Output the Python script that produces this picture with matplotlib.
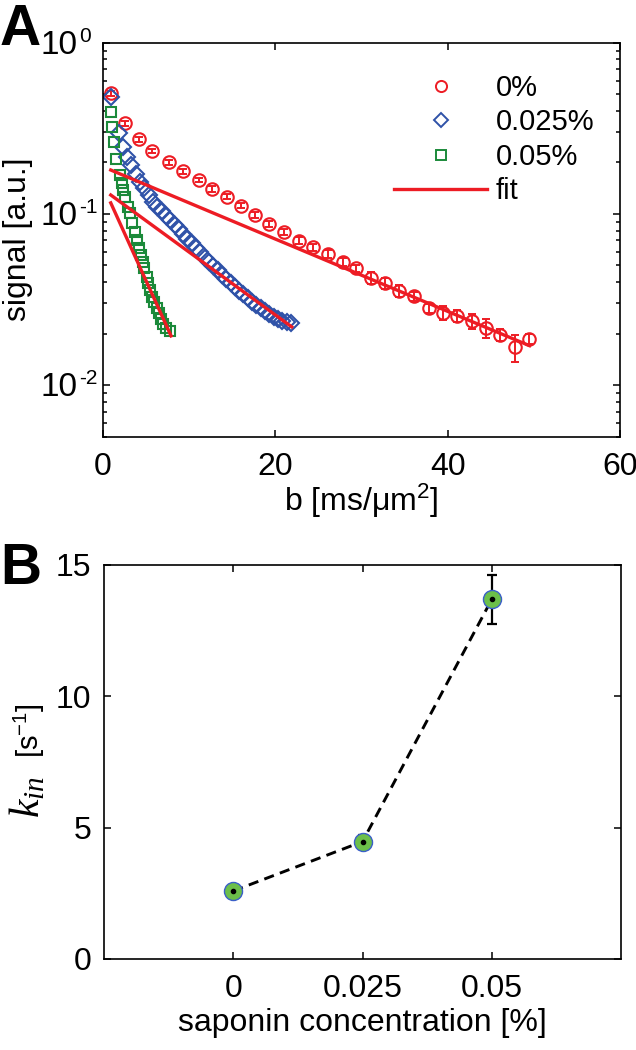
import matplotlib
matplotlib.use("Agg")
import matplotlib.pyplot as plt
import matplotlib.transforms as mtransforms
from matplotlib.lines import Line2D
from matplotlib.ticker import NullFormatter

plt.rcParams['font.family'] = ['Liberation Sans', 'DejaVu Sans']
plt.rcParams['mathtext.fontset'] = 'custom'
plt.rcParams['mathtext.rm'] = 'Liberation Sans'
plt.rcParams['mathtext.it'] = 'Liberation Serif:italic'
plt.rcParams['axes.unicode_minus'] = False

# panel A: signal decay, 0% saponin
b_0 = [0.9, 2.5, 4.2, 5.7, 7.7, 9.3, 11.1, 12.7, 14.4, 16.0, 17.6, 19.3, 21.0, 22.7, 24.4,
       26.1, 27.8, 29.4, 31.1, 32.7, 34.4, 36.1, 37.8, 39.5, 41.1, 42.8, 44.4, 46.1, 47.8, 49.4]
sig_0 = [0.506, 0.338, 0.273, 0.233, 0.200, 0.178, 0.158, 0.140, 0.126, 0.112, 0.0986, 0.0873,
         0.0787, 0.0699, 0.0638, 0.0583, 0.0526, 0.0481, 0.0424, 0.0393, 0.0357, 0.0332,
         0.0282, 0.0265, 0.0253, 0.0237, 0.0216, 0.0197, 0.0167, 0.0187]
err_0 = [0.015, 0.012, 0.009, 0.006, 0.007, 0.006, 0.005, 0.005, 0.004, 0.004, 0.0035, 0.0035,
         0.0035, 0.0035, 0.003, 0.003, 0.0027, 0.0025, 0.0034, 0.0027, 0.003, 0.002,
         0.0017, 0.0026, 0.002, 0.0023, 0.0028, 0.0016, 0.003, 0.0013]

# 0.025% saponin
b_025 = [0.9, 1.8, 2.3, 2.8, 3.3, 3.8, 4.3, 4.8, 5.3, 5.8, 6.3, 6.8, 7.3, 7.8, 8.3, 8.8, 9.3,
         9.8, 10.3, 10.8, 11.3, 11.8, 12.3, 12.8, 13.3, 13.8, 14.3, 14.8, 15.3, 15.8, 16.3,
         16.8, 17.3, 17.8, 18.3, 18.8, 19.3, 19.8, 20.3, 20.8, 21.3, 21.8]
sig_025 = [0.484, 0.296, 0.247, 0.216, 0.193, 0.172, 0.154, 0.141, 0.129, 0.118, 0.110, 0.1035,
           0.0977, 0.0923, 0.0867, 0.0813, 0.0759, 0.0716, 0.0676, 0.0631, 0.0596, 0.0556,
           0.0525, 0.0495, 0.0468, 0.0442, 0.0419, 0.0396, 0.0376, 0.0357, 0.0339, 0.0324,
           0.0308, 0.0295, 0.0282, 0.0270, 0.0260, 0.0251, 0.0244, 0.0237, 0.0234, 0.0232]

# 0.05% saponin
b_05 = [0.93, 1.01, 1.28, 1.51, 1.97, 2.17, 2.36, 2.55, 2.94, 3.13, 3.40, 3.71, 3.91, 4.18,
        4.37, 4.61, 4.79, 5.07, 5.26, 5.45, 5.72, 5.95, 6.23, 6.50, 6.73, 7.00, 7.27, 7.77]
sig_05 = [0.395, 0.323, 0.264, 0.209, 0.169, 0.151, 0.138, 0.126, 0.110, 0.1008, 0.0881,
          0.0787, 0.0704, 0.0630, 0.0575, 0.0526, 0.0481, 0.0430, 0.0393, 0.0360, 0.0328,
          0.0307, 0.0281, 0.0263, 0.0245, 0.0229, 0.0215, 0.0208]

# fit lines (end points)
fit_b = [[0.9, 49.5], [0.9, 21.9], [0.9, 7.9]]
fit_sig = [[0.1805, 0.0170], [0.129, 0.0219], [0.116, 0.0194]]

# y tick labels of panel A (base 10, exponents)
decades = [1, 0.1, 0.01]
exponents = ['0', '-1', '-2']

# panel B
conc = [0.0, 0.025, 0.05]
conc_labels = ['0', '0.025', '0.05']
kin = [2.59, 4.47, 13.69]
kin_err = [0.12, 0.25, 0.92]

red = '#ed1c24'
blue = '#2f52a8'
green = '#1b8a3a'

fig = plt.figure(figsize=(6.36, 10.5), dpi=100)
ax1 = fig.add_axes([103 / 636, 1 - 436.7 / 1050, 517 / 636, 394 / 1050])
ax2 = fig.add_axes([104 / 636, 1 - 959 / 1050, 517 / 636, 394 / 1050])

# --- A ---
ax1.errorbar(b_0, sig_0, yerr=err_0, fmt='none', ecolor=red, elinewidth=1.4, capsize=3, capthick=1.4)
ax1.plot(b_0, sig_0, 'o', mfc='none', mec=red, ms=9, mew=1.5, label='0%')
ax1.plot(b_025, sig_025, 'D', mfc='none', mec=blue, ms=8.5, mew=1.5, label='0.025%')
ax1.plot(b_05, sig_05, 's', mfc='none', mec=green, ms=7.5, mew=1.5, label='0.05%')
for fb, fs in zip(fit_b, fit_sig):
    ax1.plot(fb, fs, '-', color=red, lw=2.4)

ax1.set_yscale('log')
ax1.set_xlim(0, 60)
ax1.set_ylim(0.005, 1)
ax1.set_xticks([0, 20, 40, 60])
ax1.yaxis.set_major_formatter(NullFormatter())
ax1.yaxis.set_minor_formatter(NullFormatter())
ax1.set_xlabel(r'b [ms/μm$\mathregular{^2}$]', fontsize=23, labelpad=0)
ax1.set_ylabel('signal [a.u.]', fontsize=23)
ax1.yaxis.set_label_coords(-0.135, 0.5)

# MATLAB-like 10^n labels with a small exponent
ytrans = mtransforms.blended_transform_factory(ax1.transAxes, ax1.transData)
base_tr = mtransforms.offset_copy(ytrans, fig=fig, x=0, y=-11, units='dots')
exp_tr = mtransforms.offset_copy(ytrans, fig=fig, x=0, y=1, units='dots')
for d, e in zip(decades, exponents):
    ax1.text(-0.049, d, '10', transform=base_tr, ha='right', va='baseline', fontsize=24)
    ax1.text(-0.047, d, e, transform=exp_tr, ha='left', va='baseline', fontsize=15)

handles = [Line2D([], [], ls='none', marker='o', mfc='none', mec=red, ms=8, mew=1.4),
           Line2D([], [], ls='none', marker='D', mfc='none', mec=blue, ms=7, mew=1.4),
           Line2D([], [], ls='none', marker='s', mfc='none', mec=green, ms=7, mew=1.4),
           Line2D([], [], color=red, lw=2.4)]
ax1.legend(handles, ['0%', '0.025%', '0.05%', 'fit'], loc='upper right', frameon=False,
           fontsize=21, handlelength=3.2, handletextpad=0.3, labelspacing=0.22,
           borderaxespad=0.2, bbox_to_anchor=(0.985, 0.965))

# --- B ---
ax2.plot(conc, kin, color='black', lw=2.1, ls=(0, (3.5, 2.2)))
ax2.errorbar(conc, kin, yerr=kin_err, fmt='none', ecolor='black', elinewidth=1.6, capsize=3.5, capthick=1.6)
ax2.plot(conc, kin, 'o', ms=13, mfc='#6cbf4a', mec='#3a5fc8', mew=1.0)
ax2.plot(conc, kin, '.', color='black', ms=6)
ax2.set_xlim(-0.025, 0.075)
ax2.set_ylim(0, 15)
ax2.set_xticks(conc)
ax2.set_xticklabels(conc_labels)
ax2.set_yticks([0, 5, 10, 15])
ax2.set_xlabel('saponin concentration [%]', fontsize=23, labelpad=3)
# y label: large italic k_in, smaller unit
ax2.text(-0.126, 0.41, r'$k_{in}$', transform=ax2.transAxes, rotation=90,
         rotation_mode='anchor', ha='center', va='baseline', fontsize=30)
ax2.text(-0.126, 0.58, r'[s$\mathregular{^{-1}}$]', transform=ax2.transAxes, rotation=90,
         rotation_mode='anchor', ha='center', va='baseline', fontsize=21)

for ax in (ax1, ax2):
    ax.tick_params(which='both', direction='in', top=True, right=True, labelsize=23, width=1.1)
    ax.tick_params(which='major', length=5)
    ax.tick_params(axis='x', which='major', pad=11)
    ax.tick_params(axis='y', which='major', pad=9)
    ax.tick_params(which='minor', length=3)
    for s in ax.spines.values():
        s.set_linewidth(1.2)

fig.text(0.0, 1 - 45 / 1050, 'A', fontsize=41, fontweight='bold', ha='left', va='baseline')
fig.text(0.0, 1 - 584 / 1050, 'B', fontsize=41, fontweight='bold', ha='left', va='baseline')

fig.savefig('out.png', dpi=100)
